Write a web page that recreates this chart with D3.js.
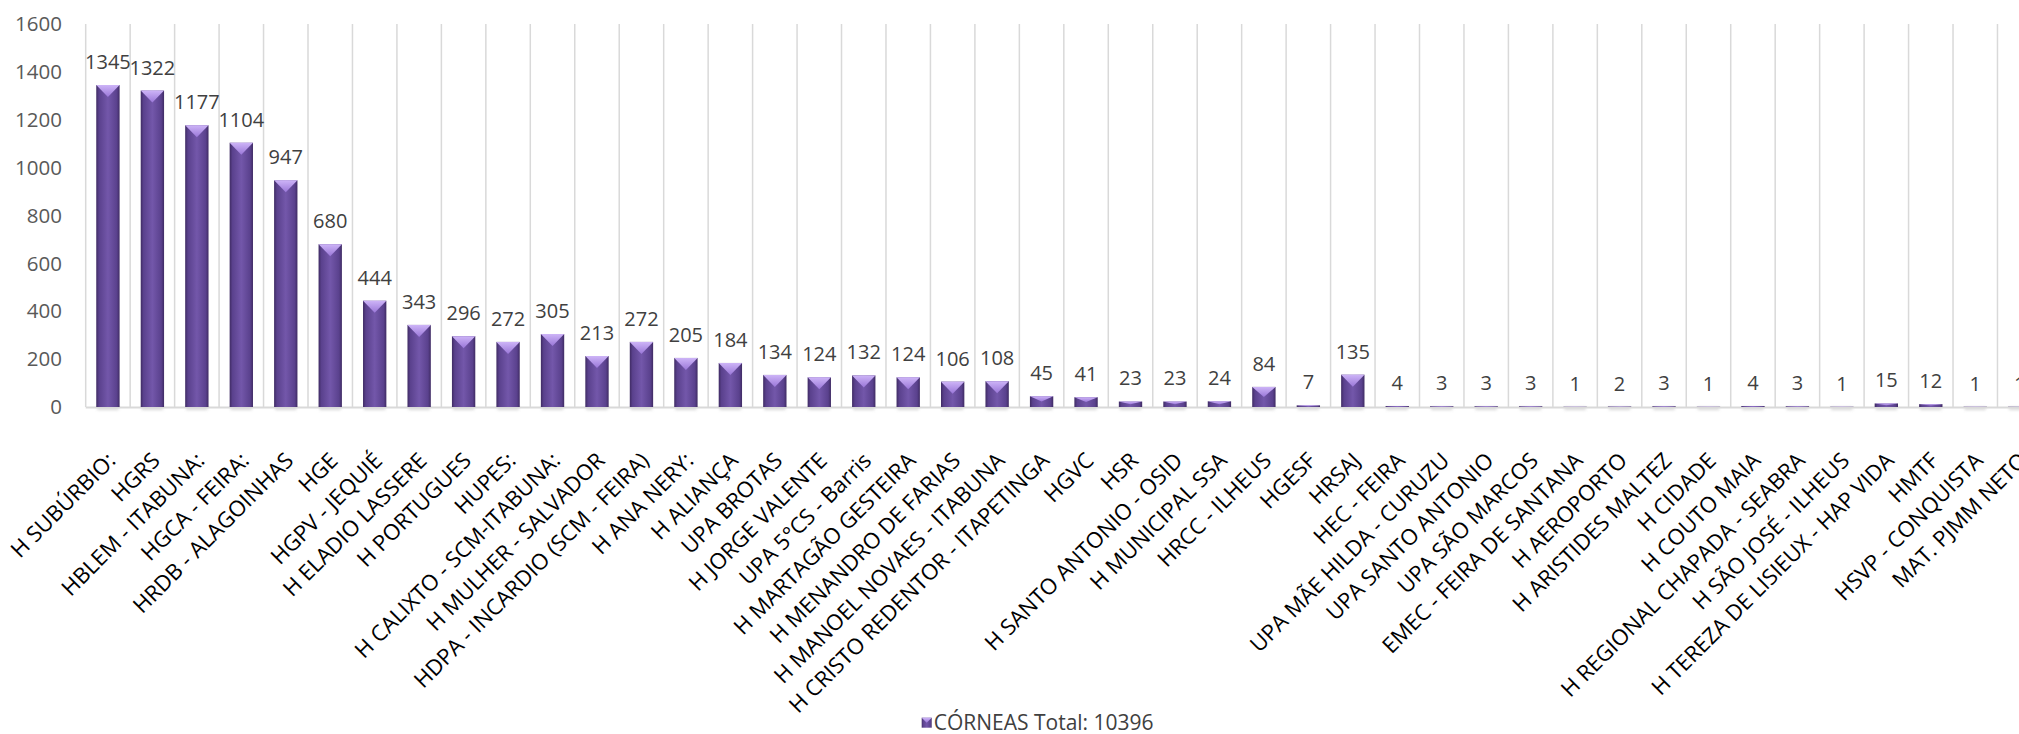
<!DOCTYPE html>
<html>
<head>
<meta charset="utf-8">
<script src="https://cdn.jsdelivr.net/npm/d3@7/dist/d3.min.js"></script>
<style>
  html, body { margin: 0; padding: 0; background: #fff; overflow: hidden; }
  svg { display: block; }
  text { font-family: "Open Sans", Lato, sans-serif; }
</style>
</head>
<body>
<svg id="chart" width="2019" height="734"></svg>
<script>
const categories = [
  "H SUBÚRBIO:", "HGRS", "HBLEM - ITABUNA:", "HGCA - FEIRA:", "HRDB - ALAGOINHAS",
  "HGE", "HGPV - JEQUIÉ", "H ELADIO LASSERE", "H PORTUGUES", "HUPES:",
  "H CALIXTO - SCM-ITABUNA:", "H MULHER - SALVADOR", "HDPA - INCARDIO (SCM - FEIRA)", "H ANA NERY:", "H ALIANÇA",
  "UPA BROTAS", "H JORGE VALENTE", "UPA 5°CS - Barris", "H MARTAGÃO GESTEIRA", "H MENANDRO DE FARIAS",
  "H MANOEL NOVAES - ITABUNA", "H CRISTO REDENTOR - ITAPETINGA", "HGVC", "HSR", "H SANTO ANTONIO - OSID",
  "H MUNICIPAL SSA", "HRCC - ILHEUS", "HGESF", "HRSAJ", "HEC - FEIRA",
  "UPA MÃE HILDA - CURUZU", "UPA SANTO ANTONIO", "UPA SÃO MARCOS", "EMEC - FEIRA DE SANTANA", "H AEROPORTO",
  "H ARISTIDES MALTEZ", "H CIDADE", "H COUTO MAIA", "H REGIONAL CHAPADA - SEABRA", "H SÃO JOSÉ - ILHEUS",
  "H TEREZA DE LISIEUX - HAP VIDA", "HMTF", "HSVP - CONQUISTA", "MAT. PJMM NETO"
];
const corneas = [
  1345, 1322, 1177, 1104, 947,
  680, 444, 343, 296, 272,
  305, 213, 272, 205, 184,
  134, 124, 132, 124, 106,
  108, 45, 41, 23, 23,
  24, 84, 7, 135, 4,
  3, 3, 3, 1, 2,
  3, 1, 4, 3, 1,
  15, 12, 1, 1
];
const yTicks = [0, 200, 400, 600, 800, 1000, 1200, 1400, 1600];
const seriesName = "CÓRNEAS Total: 10396";

const svg = d3.select("#chart");
const plotLeft = 85.7, step = 44.46;
const plotRight = plotLeft + step * categories.length;
const plotTop = 24, plotBottom = 407;

const x = d3.scaleBand().domain(categories).range([plotLeft, plotRight])
  .paddingInner(0.475).paddingOuter(0.2375);
const y = d3.scaleLinear().domain([0, 1600]).range([plotBottom, plotTop]);

const defs = svg.append("defs");
const g1 = defs.append("linearGradient").attr("id", "body").attr("x1", "0").attr("x2", "1").attr("y1", "0").attr("y2", "0");
[["0%", "#3f2b63"], ["12%", "#5a418d"], ["50%", "#7357aa"], ["88%", "#5a418d"], ["100%", "#3f2b63"]]
  .forEach(([o, c]) => g1.append("stop").attr("offset", o).attr("stop-color", c));
const g2 = defs.append("linearGradient").attr("id", "cap").attr("x1", "0").attr("x2", "0").attr("y1", "0").attr("y2", "1");
[["0%", "#cdb4f7"], ["100%", "#9a77d8"]]
  .forEach(([o, c]) => g2.append("stop").attr("offset", o).attr("stop-color", c));
defs.append("filter").attr("id", "blur").attr("x", "-50%").attr("y", "-200%").attr("width", "200%").attr("height", "500%")
  .append("feGaussianBlur").attr("stdDeviation", 1.5);

// vertical gridlines at category boundaries
const bounds = d3.range(categories.length + 1).map(i => i === categories.length
  ? x(categories[i - 1]) + x.bandwidth() / 2 + x.step() / 2
  : x(categories[i]) + x.bandwidth() / 2 - x.step() / 2);
svg.append("g").selectAll("line").data(bounds).join("line")
  .attr("x1", d => d).attr("x2", d => d).attr("y1", plotTop).attr("y2", plotBottom)
  .attr("stroke", "#d9d9d9").attr("stroke-width", 1.5);

// bar shadows
svg.append("g").selectAll("rect").data(categories).join("rect")
  .attr("x", d => x(d) + 1).attr("width", x.bandwidth() - 2)
  .attr("y", plotBottom).attr("height", 3)
  .attr("fill", "#bbbbbb").attr("opacity", 0.6).attr("filter", "url(#blur)");

// baseline
svg.append("line").attr("x1", plotLeft).attr("x2", plotRight).attr("y1", plotBottom + 0.5).attr("y2", plotBottom + 0.5)
  .attr("stroke", "#d9d9d9").attr("stroke-width", 2);

// bars
const bars = svg.append("g").selectAll("g").data(categories).join("g");
bars.append("rect")
  .attr("x", d => x(d)).attr("width", x.bandwidth())
  .attr("y", (d, i) => y(corneas[i])).attr("height", (d, i) => plotBottom - y(corneas[i]))
  .attr("fill", "url(#body)");
bars.append("path")
  .attr("d", (d, i) => {
    const h = plotBottom - y(corneas[i]);
    const c = Math.min(12, h * 0.5);
    const x0 = x(d), x1 = x(d) + x.bandwidth(), yt = y(corneas[i]);
    return `M${x0},${yt}L${x1},${yt}L${(x0 + x1) / 2},${yt + c}Z`;
  })
  .attr("fill", "url(#cap)");

// value labels
svg.append("g").selectAll("text").data(categories).join("text")
  .attr("x", d => x(d) + x.bandwidth() / 2)
  .attr("y", (d, i) => y(corneas[i]) - 16)
  .attr("text-anchor", "middle")
  .attr("font-size", 20).attr("fill", "#404040")
  .text((d, i) => corneas[i]);

// y-axis tick labels
svg.append("g").selectAll("text").data(yTicks).join("text")
  .attr("x", 62).attr("y", d => y(d)).attr("dy", "0.35em")
  .attr("text-anchor", "end").attr("font-size", 20.5).attr("fill", "#595959")
  .text(d => d);

// category labels
svg.append("g").selectAll("text").data(categories).join("text")
  .attr("transform", d => `translate(${x(d) + x.bandwidth() / 2 + 9},${plotBottom + 55}) rotate(-45)`)
  .attr("text-anchor", "end").attr("font-size", 22).attr("fill", "#000")
  .text(d => d);

// legend
const lg = svg.append("g").attr("transform", "translate(921.7,717.7)");
lg.append("rect").attr("width", 10).attr("height", 10).attr("fill", "url(#body)");
lg.append("path").attr("d", "M0,0L10,0L5,5Z").attr("fill", "url(#cap)");
lg.append("text").attr("x", 12).attr("y", 5).attr("dy", "0.35em")
  .attr("font-size", 21).attr("fill", "#404040").text(seriesName);
</script>
</body>
</html>
